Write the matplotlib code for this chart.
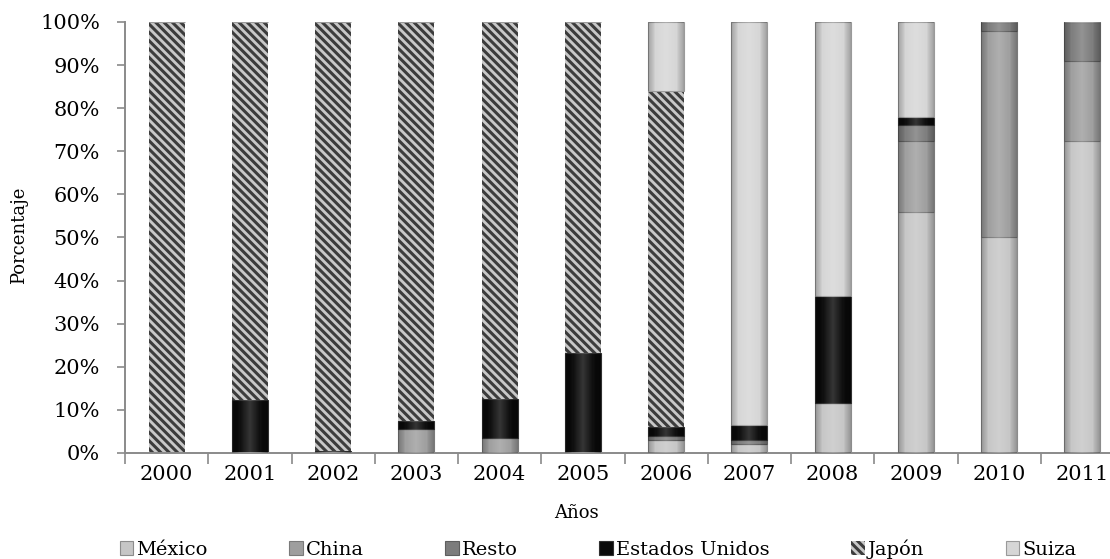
import matplotlib
matplotlib.use("Agg")
import matplotlib.pyplot as plt
import numpy as np
from matplotlib.ticker import FuncFormatter, FixedLocator

years = ["2000", "2001", "2002", "2003", "2004", "2005",
         "2006", "2007", "2008", "2009", "2010", "2011"]
series_names = ["México", "China", "Resto", "Estados Unidos", "Japón", "Suiza"]
mexico = [0, 0, 0, 0, 0, 0, 3, 2, 11.5, 56, 50, 72.5]
china = [0, 0, 0, 5.5, 3.5, 0, 0, 0, 0, 16.5, 48, 18.5]
resto = [0, 0, 0, 0, 0, 0, 1, 1, 0, 3.5, 2, 9]
eeuu = [0, 12.3, 0.5, 2, 9, 23.2, 2, 3.5, 25, 2, 0, 0]
japon = [100, 87.7, 99.5, 92.5, 87.5, 76.8, 78, 0, 0, 0, 0, 0]
suiza = [0, 0, 0, 0, 0, 0, 16, 93.5, 63.5, 22, 0, 0]

plt.rcParams['font.family'] = ['DejaVu Serif']
plt.rcParams['hatch.linewidth'] = 2.2

fig = plt.figure(figsize=(11.10, 5.59), dpi=100)
ax = fig.add_axes([125/1110, 1-453/559, 999/1110, 431/559])

data = [mexico, china, resto, eeuu, japon, suiza]
faces = ['#c6c6c6', '#9e9e9e', '#7c7c7c', '#0a0a0a', '#c8c8c8', '#d6d6d6']
edges = ['#8c8c8c', '#7a7a7a', '#5e5e5e', '#303030', '#3c3c3c', '#9a9a9a']
hatches = [None, None, None, None, '\\\\\\\\', None]

# horizontal shading overlay (darker edges, lighter centre)
t = np.linspace(-1, 1, 64)
shade = np.zeros((1, 64, 4))
centre = np.clip(1 - np.abs(t) * 1.6, 0, 1)
edge = np.clip(np.abs(t) * 1.6 - 0.9, 0, 1)
shade[0, :, :3] = np.where(centre[:, None] > 0, 1.0, 0.0)
shade[0, :, 3] = 0.18 * centre + 0.35 * edge

x = np.arange(len(years))
bottom = np.zeros(len(years))
handles = []
for name, vals, fc, ec, h in zip(series_names, data, faces, edges, hatches):
    vals = np.array(vals, dtype=float)
    bars = ax.bar(x, vals, width=0.43, bottom=bottom, color=fc,
                  edgecolor=ec, linewidth=0.8 if h is None else 0.0,
                  hatch=h, label=name, zorder=2)
    handles.append(bars)
    if h is None:
        for p in bars.patches:
            if p.get_height() <= 0:
                continue
            x0, y0 = p.get_x(), p.get_y()
            im = ax.imshow(shade, extent=(x0, x0 + p.get_width(), y0, y0 + p.get_height()),
                           aspect='auto', zorder=3, interpolation='bilinear')
            im.set_clip_path(p)
    bottom += vals

ax.set_xlim(-0.5, len(years) - 0.5)
ax.set_ylim(0, 100)
ax.set_yticks(np.arange(0, 101, 10))
ax.yaxis.set_major_formatter(FuncFormatter(lambda v, p: f"{int(round(v))}%"))
ax.set_xticks(x)
ax.set_xticklabels(years)
ax.xaxis.set_minor_locator(FixedLocator(np.arange(-0.5, len(years), 1.0)))
ax.tick_params(axis='x', which='major', length=0, labelsize=15, pad=9, colors='black')
ax.tick_params(axis='x', which='minor', length=8, width=1.2, color='#8a8a8a')
ax.tick_params(axis='y', which='major', length=6, width=1.2, color='#8a8a8a', labelsize=15, pad=12)

for s in ['top', 'right']:
    ax.spines[s].set_visible(False)
for s in ['left', 'bottom']:
    ax.spines[s].set_color('#8a8a8a')
    ax.spines[s].set_linewidth(1.4)

ax.set_xlabel("Años", fontsize=13)
ax.xaxis.set_label_coords((576-125)/999, -(504-453)/431)
ax.set_ylabel("Porcentaje", fontsize=13)
ax.yaxis.set_label_coords(-(125-28)/999, 0.505)

fig.legend(handles=handles, labels=series_names, loc='center',
           bbox_to_anchor=(598/1110, 1-549/559), ncol=6, frameon=False,
           fontsize=14, handlelength=0.7, handleheight=0.7, handletextpad=0.15,
           columnspacing=4.2, borderaxespad=0)

fig.savefig("out.png", dpi=100)
